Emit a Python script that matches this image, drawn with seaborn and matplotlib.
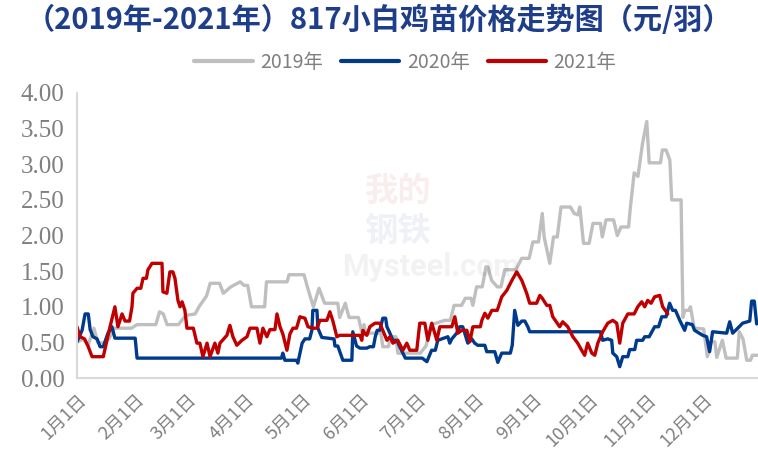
import matplotlib
matplotlib.use("Agg")
import matplotlib.pyplot as plt
import seaborn as sns
import pandas as pd
import numpy as np
from matplotlib.lines import Line2D

# ---- data (day of year from Jan 1, price 元/羽) ----
days_2019 = [0, 3, 6, 9, 11, 14, 17, 20, 29, 32, 42, 44, 46, 48, 54, 58, 63, 65, 69, 71, 76, 78, 82, 87, 89, 91, 93,
             100, 101, 112, 113, 121, 123, 126, 129, 132, 139, 140, 143, 145, 150, 152, 153, 154, 162, 163, 166, 167,
             170, 171, 183, 186, 189, 196, 199, 201, 205, 207, 210, 211, 213, 216, 218, 219, 221, 224, 226, 228, 234,
             237, 241, 243, 246, 248, 249, 252, 254, 256, 258, 263, 265, 267, 268, 270, 273, 275, 279, 280, 282, 286,
             288, 290, 294, 295, 297, 299, 300, 301.5, 303.7, 305, 311, 312, 314, 316, 317, 322, 323, 324, 326, 327,
             329, 334, 336, 338, 340, 341, 344, 346, 352, 353, 355, 357, 359, 360, 363]
vals_2019 = [0.50, 0.55, 0.47, 0.70, 0.50, 0.49, 0.55, 0.70, 0.70, 0.75, 0.75, 0.93, 0.90, 0.75, 0.75, 0.88, 0.90, 1.00,
             1.15, 1.33, 1.33, 1.19, 1.28, 1.35, 1.30, 1.30, 1.00, 1.00, 1.35, 1.35, 1.45, 1.45, 1.26, 1.00, 1.26, 1.05,
             1.05, 0.85, 1.05, 0.85, 0.85, 0.63, 0.75, 0.63, 0.63, 0.44, 0.44, 0.58, 0.58, 0.35, 0.35, 0.45, 0.75, 0.81,
             0.81, 1.02, 1.02, 1.12, 1.12, 1.02, 1.28, 1.28, 1.56, 1.56, 1.37, 1.28, 1.28, 1.52, 1.52, 1.68, 1.68, 1.91,
             1.91, 2.31, 1.98, 1.61, 1.98, 1.98, 2.40, 2.40, 2.31, 2.29, 2.40, 1.89, 1.89, 2.17, 2.17, 1.98, 2.22, 2.22,
             2.00, 2.12, 2.12, 2.40, 2.88, 2.83, 3.02, 3.30, 3.60, 3.02, 3.02, 3.20, 3.20, 3.06, 2.50, 2.50, 0.85, 0.95,
             0.95, 1.00, 0.70, 0.69, 0.30, 0.51, 0.51, 0.29, 0.53, 0.28, 0.28, 0.65, 0.55, 0.25, 0.25, 0.32, 0.32]

days_2020 = [0, 2.7, 4.3, 6, 7, 8.5, 10.7, 12.3, 14, 16.5, 18.6, 20.2, 31, 32, 109, 109.7, 110.8, 117, 117.7, 120,
             121.5, 124, 125.2, 125.7, 127.9, 128.4, 130.5, 137, 137.5, 139, 141.7, 146.5, 147, 149, 150.8, 154.5,
             156, 158, 159, 160, 161.4, 163, 164.5, 165.2, 166.8, 168.4, 170.5, 172, 175, 184, 186.5, 189, 191, 192.3,
             197.7, 198.7, 199.8, 202.4, 204, 205.6, 206.7, 208.3, 210.4, 212, 213.6, 217.4, 218.4, 222.7, 224.3,
             226.4, 231, 232, 233.3, 235, 237.1, 238.7, 240.3, 241.3, 279, 280.2, 282.9, 285, 285.6, 287.7, 289.3,
             290.9, 293.6, 294.6, 297.3, 298.3, 301.5, 302.6, 305, 307.9, 310, 311.7, 314, 315.9, 317.5, 319, 321.3,
             323.9, 325, 328, 329.2, 333.5, 335.6, 337.2, 338.8, 346.3, 347.9, 349.5, 352.2, 354.8, 358.6, 359.6,
             361, 362.3]
vals_2020 = [0.51, 0.67, 0.90, 0.90, 0.68, 0.58, 0.55, 0.44, 0.44, 0.63, 0.72, 0.56, 0.56, 0.28, 0.28, 0.35, 0.25,
             0.25, 0.21, 0.49, 0.55, 0.55, 0.67, 0.95, 0.95, 0.70, 0.57, 0.55, 0.45, 0.45, 0.25, 0.25, 0.65, 0.45,
             0.42, 0.42, 0.44, 0.44, 0.58, 0.67, 0.67, 0.84, 0.84, 0.72, 0.63, 0.53, 0.53, 0.44, 0.28, 0.28, 0.23,
             0.39, 0.39, 0.53, 0.58, 0.49, 0.55, 0.63, 0.72, 0.72, 0.63, 0.49, 0.55, 0.49, 0.46, 0.46, 0.37, 0.37,
             0.22, 0.35, 0.35, 0.46, 0.95, 0.74, 0.80, 0.80, 0.72, 0.65, 0.65, 0.53, 0.55, 0.53, 0.35, 0.30, 0.16,
             0.30, 0.30, 0.40, 0.40, 0.53, 0.53, 0.58, 0.58, 0.72, 0.72, 0.86, 0.86, 1.05, 0.95, 0.95, 0.81, 0.67,
             0.77, 0.75, 0.67, 0.60, 0.58, 0.37, 0.65, 0.63, 0.79, 0.63, 0.70, 0.77, 0.80, 1.08, 1.08, 0.76]

days_2021 = [0, 1.6, 4, 6, 8, 14, 16, 17.6, 20.2, 21.8, 24, 25.6, 28, 29.3, 29.8, 32, 34, 35.2, 37, 37.8, 40, 45.3,
             45.8, 47.9, 49.5, 51.1, 52.2, 53.8, 54.9, 56, 57.5, 58.6, 62, 63.9, 65.5, 67.1, 69.3, 70.9, 73.5, 75.1,
             76.2, 79.9, 81.5, 83.1, 85.2, 87.9, 90.6, 92.2, 95.9, 97.5, 99.1, 101.2, 102.8, 105.5, 106.6, 108.2,
             109.7, 111.9, 113.5, 115.1, 117, 118.8, 121.5, 123.1, 125.7, 127.9, 129.5, 133.2, 134.8, 136.4, 138.5,
             140.1, 150.8, 151.8, 152.4, 153.5, 154.5, 156.1, 158.8, 161.4, 163, 165.2, 166.8, 168.4, 171, 173.7,
             175.8, 177.4, 181.1, 182.7, 185.4, 187, 189.1, 191.8, 193.4, 199.8, 201.4, 203, 205.1, 207.8, 209.4,
             211, 215, 215.8, 217.4, 219, 221.1, 224, 226.4, 229.1, 231.8, 234.4, 237.1, 239.7, 241.3, 245, 246.7,
             248, 250.4, 252, 253.6, 257.3, 258.9, 261.6, 264.3, 266.9, 269, 270.6, 272.2, 274.4, 276, 277.6,
             280.2, 282.9, 285.6, 287.7, 289.3, 290.9, 293.6, 297, 298.9, 301, 302.6, 304.2, 306, 307.9, 310.6,
             312.2, 314.9]
vals_2021 = [0.72, 0.58, 0.55, 0.44, 0.30, 0.30, 0.53, 0.72, 1.00, 0.72, 0.90, 0.80, 0.80, 1.00, 1.19, 1.26, 1.26,
             1.40, 1.40, 1.52, 1.61, 1.61, 1.21, 1.19, 1.49, 1.49, 1.40, 1.09, 1.00, 1.07, 0.95, 0.70, 0.70, 0.49,
             0.49, 0.30, 0.49, 0.30, 0.49, 0.35, 0.49, 0.60, 0.74, 0.58, 0.46, 0.53, 0.58, 0.70, 0.70, 0.49, 0.70,
             0.58, 0.68, 0.68, 0.90, 0.72, 0.62, 0.39, 0.62, 0.70, 0.70, 0.86, 0.84, 0.72, 0.70, 0.70, 0.81, 0.81,
             0.93, 0.80, 0.58, 0.60, 0.60, 0.53, 0.67, 0.62, 0.60, 0.72, 0.77, 0.77, 0.67, 0.53, 0.58, 0.49, 0.53,
             0.39, 0.49, 0.39, 0.39, 0.77, 0.77, 0.53, 0.77, 0.53, 0.72, 0.72, 0.86, 0.63, 0.67, 0.67, 0.51, 0.72,
             0.72, 0.81, 0.91, 0.84, 0.95, 0.95, 1.14, 1.23, 1.37, 1.49, 1.37, 1.19, 1.05, 1.05, 1.16, 1.12, 1.02,
             1.02, 0.86, 0.72, 0.79, 0.72, 0.58, 0.49, 0.39, 0.32, 0.49, 0.35, 0.32, 0.49, 0.65, 0.77, 0.81, 0.77,
             0.49, 0.77, 0.90, 0.90, 1.00, 1.07, 1.00, 1.09, 1.05, 1.14, 1.16, 1.00, 0.90]

series_names = ["2019年", "2020年", "2021年"]
series_colors = ["#BFBFBF", "#003A8C", "#C00000"]
month_ticks = [0, 31, 59, 90, 120, 151, 181, 212, 243, 273, 304, 334]
month_labels = ["1月1日", "2月1日", "3月1日", "4月1日", "5月1日", "6月1日",
                "7月1日", "8月1日", "9月1日", "10月1日", "11月1日", "12月1日"]
y_ticks = [0.0, 0.5, 1.0, 1.5, 2.0, 2.5, 3.0, 3.5, 4.0]
title_text = "（2019年-2021年）817小白鸡苗价格走势图（元/羽）"

frames = []
for name, d, v in zip(series_names, [days_2019, days_2020, days_2021], [vals_2019, vals_2020, vals_2021]):
    frames.append(pd.DataFrame({"day": d, "price": v, "year": name}))
df = pd.concat(frames, ignore_index=True)

sns.set_theme(style="white")
plt.rcParams["font.family"] = ["Noto Sans CJK SC", "DejaVu Sans"]

fig = plt.figure(figsize=(7.58, 4.72), dpi=100)
ax = fig.add_axes([0.1016, 0.199, 0.8984, 0.604])

# watermark (faint)
fig.text(0.525, 0.595, "我的", fontsize=24, color="#C00000", alpha=0.07, ha="center", va="center",
         family=["Noto Sans CJK SC"], fontweight="bold")
fig.text(0.525, 0.51, "钢铁", fontsize=24, color="#1F3E8A", alpha=0.07, ha="center", va="center",
         family=["Noto Sans CJK SC"], fontweight="bold")
fig.text(0.568, 0.435, "Mysteel.com", fontsize=22, color="#000000", alpha=0.05, ha="center", va="center",
         family=["Roboto", "DejaVu Sans"], fontweight="bold")

sns.lineplot(data=df, x="day", y="price", hue="year", hue_order=series_names,
             palette=dict(zip(series_names, series_colors)), estimator=None, sort=False,
             linewidth=2.4, ax=ax, legend=False)

ax.set_xlim(0, 363)
ax.set_ylim(0, 4.0)
ax.set_xticks(month_ticks)
ax.set_xticklabels(month_labels, rotation=45, ha="right", rotation_mode="anchor",
                   fontsize=13, color="#7F7F7F")
ax.set_yticks(y_ticks)
ax.set_yticklabels([f"{t:.2f}" for t in y_ticks], fontsize=18, color="#7F7F7F",
                   family=["Liberation Serif"])
ax.set_xlabel("")
ax.set_ylabel("")
for s in ["top", "right"]:
    ax.spines[s].set_visible(False)
for s in ["left", "bottom"]:
    ax.spines[s].set_color("#D9D9D9")
    ax.spines[s].set_linewidth(1.5)
ax.tick_params(axis="both", which="major", length=5, width=1.5, color="#D9D9D9", direction="out")
ax.tick_params(axis="x", pad=4)
ax.tick_params(axis="y", pad=4)

fig.text(0.5, 0.957, title_text, fontsize=21, fontweight="bold", color="#1F3E8A",
         ha="center", va="center")

handles = [Line2D([], [], color=c, linewidth=3) for c in series_colors]
leg = fig.legend(handles, series_names, loc="center", bbox_to_anchor=(0.535, 0.868), ncol=3,
                 frameon=False, fontsize=14, handlelength=3.0, columnspacing=0.9, handletextpad=0.4)
for t in leg.get_texts():
    t.set_color("#7F7F7F")

fig.savefig("out.png", dpi=100)
